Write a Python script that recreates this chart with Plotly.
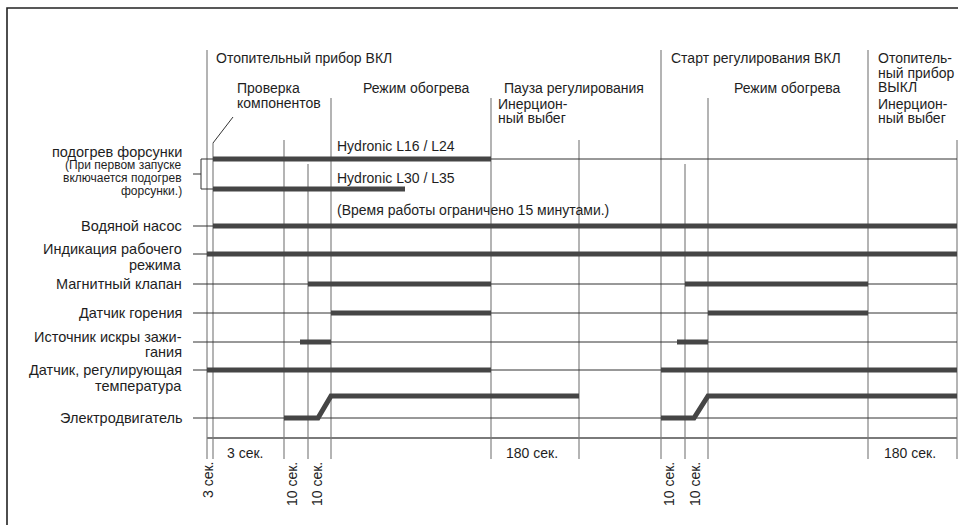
import plotly.graph_objects as go

# ---------------- data ----------------
# schematic timeline (diagram units, not to scale): switching events
event_names = ["heater_on", "plus3s", "check_end", "plus10s_a", "flame_on",
               "pause", "afterrun_end", "control_on", "plus10s_b", "flame_on_2",
               "heater_off", "afterrun_end_2"]
event_pos = [207, 213, 284, 308, 331, 491, 579, 661, 685, 708, 868, 957]
# extra intermediate instants
glow_l30_end = 405
spark_on = [300, 677]
motor_kink = [318, 694]

ev = dict(zip(event_names, event_pos))

signal_keys = ["glow1", "glow2", "pump", "indicator", "valve", "flame",
               "spark", "tempsensor"]
signal_on = {
    "glow1": [(ev["plus3s"], ev["pause"])],
    "glow2": [(ev["plus3s"], glow_l30_end)],
    "pump": [(ev["plus3s"], ev["afterrun_end_2"])],
    "indicator": [(ev["heater_on"], ev["afterrun_end_2"])],
    "valve": [(ev["plus10s_a"], ev["pause"]), (ev["plus10s_b"], ev["heater_off"])],
    "flame": [(ev["flame_on"], ev["pause"]), (ev["flame_on_2"], ev["heater_off"])],
    "spark": [(spark_on[0], ev["flame_on"]), (spark_on[1], ev["flame_on_2"])],
    "tempsensor": [(ev["heater_on"], ev["pause"]), (ev["control_on"], ev["afterrun_end_2"])],
}
# motor: (start low, kink, full speed, end)
motor_runs = [
    (ev["check_end"], motor_kink[0], ev["flame_on"], ev["afterrun_end"]),
    (ev["control_on"], motor_kink[1], ev["flame_on_2"], ev["afterrun_end_2"]),
]

row_labels = [
    ("подогрев форсунки", "glow1t", 14.5),
    ("(При первом запуске", "n1", 12),
    ("включается подогрев", "n2", 12),
    ("форсунки.)", "n3", 12),
    ("Водяной насос", "pump", 14.5),
    ("Индикация рабочего", "ind1", 14.5),
    ("режима", "ind2", 14.5),
    ("Магнитный клапан", "valve", 14.5),
    ("Датчик горения", "flame", 14.5),
    ("Источник искры зажи-", "sp1", 14.5),
    ("гания", "sp2", 14.5),
    ("Датчик, регулирующая", "ts1", 14.5),
    ("температура", "ts2", 14.5),
    ("Электродвигатель", "motor_low", 14.5),
]

phase_labels = [
    ("Отопительный прибор ВКЛ", 215, 58),
    ("Проверка", 236, 88), ("компонентов", 236, 103),
    ("Режим обогрева", 362, 88),
    ("Пауза регулирования", 503, 88),
    ("Инерцион-", 497, 104), ("ный выбег", 497, 118),
    ("Старт регулирования ВКЛ", 670, 58),
    ("Режим обогрева", 733, 88),
    ("Отопитель-", 877, 58), ("ный прибор", 877, 73), ("ВЫКЛ", 877, 87),
    ("Инерцион-", 877, 104), ("ный выбег", 877, 118),
]

variant_labels = ["Hydronic L16 / L24", "Hydronic L30 / L35",
                  "(Время работы ограничено 15 минутами.)"]

duration_labels = [("3 сек.", "plus3s", "check_end"),
                   ("180 сек.", "pause", "afterrun_end"),
                   ("180 сек.", "heater_off", "afterrun_end_2")]
rotated_labels = [("3 сек.", "heater_on", 1), ("10 сек.", "check_end", 8),
                  ("10 сек.", "plus10s_a", 9), ("10 сек.", "control_on", 8),
                  ("10 сек.", "plus10s_b", 10)]

# ---------------- layout geometry ----------------
row_y = {"glow1": 159, "glow2": 189, "pump": 226, "indicator": 254, "valve": 284,
         "flame": 313, "spark": 342, "tempsensor": 370, "motor_low": 418,
         "motor_high": 396, "baseline": 438}
label_y = {"glow1t": 152, "n1": 165, "n2": 178, "n3": 191, "pump": 226,
           "ind1": 249, "ind2": 265, "valve": 284, "flame": 313, "sp1": 337,
           "sp2": 352, "ts1": 370, "ts2": 386, "motor_low": 418}
vline_top = {"heater_on": 50, "plus3s": 143, "check_end": 140, "plus10s_a": 164,
             "flame_on": 98, "pause": 98, "afterrun_end": 140, "control_on": 50,
             "plus10s_b": 164, "flame_on_2": 98, "heater_off": 50,
             "afterrun_end_2": 140}
vline_bottom = 459
tick_left = 193
FONT = "Liberation Sans, Arial, sans-serif"
BAR = "#454545"
GRID = "#8c8c8c"
THIN = "#333333"

fig = go.Figure()


def add_path(xs, ys, color, width):
    fig.add_trace(go.Scatter(x=xs, y=ys, mode="lines", hoverinfo="skip",
                             line=dict(color=color, width=width)))


# vertical event lines
xs, ys = [], []
for n in event_names:
    xs += [ev[n], ev[n], None]
    ys += [vline_top[n], vline_bottom, None]
add_path(xs, ys, GRID, 1.3)

# baseline
add_path([ev["heater_on"], ev["afterrun_end_2"]], [row_y["baseline"]] * 2, "#7a7a7a", 2)

# thin row lines
xs, ys = [], []
for k in ["pump", "indicator", "valve", "flame", "spark", "tempsensor", "motor_low"]:
    xs += [tick_left, ev["afterrun_end_2"], None]
    ys += [row_y[k], row_y[k], None]
xs += [ev["plus3s"], ev["afterrun_end_2"], None]
ys += [row_y["glow1"], row_y["glow1"], None]
# bracket for nozzle preheating
bx = 201
xs += [tick_left, bx, None, bx, bx, None, bx, ev["plus3s"], None, bx, ev["plus3s"], None]
ys += [174, 174, None, row_y["glow1"], row_y["glow2"], None,
       row_y["glow1"], row_y["glow1"], None, row_y["glow2"], row_y["glow2"], None]
# leader line for component check
xs += [233, ev["plus3s"], None]
ys += [117, 143, None]
add_path(xs, ys, THIN, 1)

# border
add_path([958, 7, 7], [8, 8, 525], "#222222", 1.6)

# signal bars
xs, ys = [], []
for k in signal_keys:
    for a, b in signal_on[k]:
        xs += [a, b, None]
        ys += [row_y[k], row_y[k], None]
add_path(xs, ys, BAR, 5)

xs, ys = [], []
for a, kink, full, end in motor_runs:
    xs += [a, kink, full, end, None]
    ys += [row_y["motor_low"], row_y["motor_low"], row_y["motor_high"],
           row_y["motor_high"], None]
add_path(xs, ys, BAR, 5)

ann = []
for text, key, size in row_labels:
    ann.append(dict(x=183, y=label_y[key], text=text, xanchor="right",
                    yanchor="middle", font=dict(size=size)))
for text, x, y in phase_labels:
    ann.append(dict(x=x, y=y, text=text, xanchor="left", yanchor="middle"))
for text, y in zip(variant_labels, [146, 178, 210]):
    ann.append(dict(x=336, y=y, text=text, xanchor="left", yanchor="middle"))
for text, a, b in duration_labels:
    ann.append(dict(x=(ev[a] + ev[b]) / 2 - 4 if text == "3 сек." else (ev[a] + ev[b]) / 2 - 3,
                    y=453, text=text, xanchor="center", yanchor="middle"))
for text, e, off in rotated_labels:
    ann.append(dict(x=ev[e] + off, y=461, text=text, textangle=-90,
                    xanchor="center", yanchor="top"))
for a in ann:
    a.update(showarrow=False, xref="x", yref="y")
    f = a.get("font", {})
    f.update(family=FONT, color="#1e1e1e")
    f.setdefault("size", 14)
    a["font"] = f
    a["borderpad"] = 0

fig.update_layout(
    width=958, height=525, autosize=False,
    margin=dict(l=0, r=0, t=0, b=0),
    paper_bgcolor="white", plot_bgcolor="white",
    showlegend=False,
    xaxis=dict(range=[0, 958], visible=False, fixedrange=True),
    yaxis=dict(range=[525, 0], visible=False, fixedrange=True),
    annotations=ann,
)

fig.write_html("out.html", config={"displayModeBar": False, "staticPlot": True},
               post_script="document.body.style.margin='0';document.body.style.overflow='hidden';")
